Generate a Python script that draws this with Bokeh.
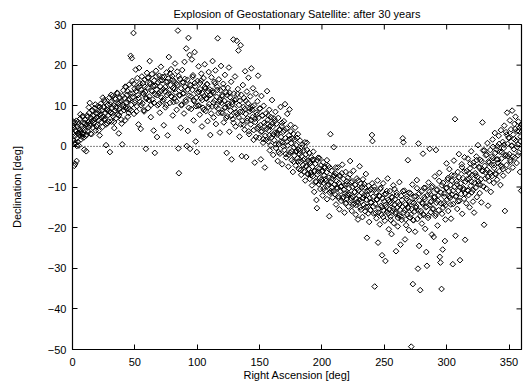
import numpy as np
from bokeh.plotting import figure
from bokeh.models import Range1d, FixedTicker, Span
from bokeh.embed import file_html
from bokeh.resources import INLINE

TITLE = "Explosion of Geostationary Satellite: after 30 years"
X_LABEL = "Right Ascension [deg]"
Y_LABEL = "Declination [deg]"
x_ticks = [0, 50, 100, 150, 200, 250, 300, 350]
y_ticks = [-50, -40, -30, -20, -10, 0, 10, 20, 30]

# (right ascension, declination) pairs, per 30-degree segment
seg_000 = [(0.3,5.2),(0.6,3.1),(0.9,1.4),(1.2,4.6),(1.4,-4.8),(1.7,2.5),(2.0,5.9),(2.2,-4.3),(2.5,0.8),(2.8,3.7),(3.1,6.3),(3.3,-3.6),(3.6,2.0),(3.9,4.9),(4.2,1.1),(4.5,3.3),(4.8,5.5),(5.1,0.2),(5.4,2.8),(5.8,4.1),(6.1,6.8),(6.4,3.5),(6.8,1.7),(7.2,5.0),(7.5,2.4),(7.9,7.3),(8.3,4.4),(8.6,3.0),(9.0,5.8),(9.4,-0.8),(9.8,4.0),(10.2,6.5),(10.6,2.6),(11.0,-1.2),(11.3,5.3),(11.7,7.6),(12.1,3.8),(12.5,6.0),(12.9,4.7),(13.3,8.2),(13.8,10.7),(14.2,5.6),(14.6,3.1),(15.0,7.0),(15.5,6.2),(15.9,8.8),(16.3,4.6),(16.8,7.5),(17.2,5.9),(17.7,9.4),(18.1,6.7),(18.6,3.9),(19.0,8.1),(19.5,7.1),(20.0,5.3),(20.4,9.9),(20.9,6.4),(21.3,8.6),(21.8,2.7),(22.2,7.8),(22.7,10.5),(23.1,6.0),(23.6,8.9),(24.1,4.8),(24.5,7.3),(25.0,9.6),(25.5,11.4),(25.9,6.8),(26.4,8.2),(26.9,0.3),(27.3,9.1),(27.8,5.7),(28.2,10.2),(28.7,7.7),(29.2,8.7),(29.6,12.0),(30.0,-1.4)]
seg_030 = [(30.4,8.3),(30.8,10.9),(31.3,6.1),(31.7,9.5),(32.2,12.4),(32.6,7.4),(33.1,10.1),(33.5,4.5),(34.0,8.8),(34.4,11.6),(34.9,6.9),(35.3,9.8),(35.8,13.2),(36.2,7.9),(36.7,10.6),(37.1,3.2),(37.6,9.2),(38.0,12.0),(38.5,8.4),(38.9,11.1),(39.4,5.6),(39.9,0.5),(40.3,10.3),(40.8,13.8),(41.2,8.9),(41.7,11.9),(42.1,6.4),(42.6,9.7),(43.0,14.6),(43.5,10.8),(43.9,12.7),(44.4,7.3),(44.8,11.4),(45.3,15.2),(45.7,9.1),(46.2,13.0),(46.6,22.3),(47.1,10.2),(47.5,21.7),(48.0,16.1),(48.4,12.1),(48.9,27.9),(49.3,8.0),(49.8,14.2),(50.2,11.3),(50.7,18.9),(51.1,13.6),(51.6,9.9),(52.0,16.8),(52.5,12.6),(52.9,5.4),(53.4,19.3),(53.8,14.8),(54.3,11.0),(54.7,4.3),(55.2,13.9),(55.6,17.2),(56.1,10.6),(56.5,15.6),(57.0,12.9),(57.4,8.6),(57.9,16.4),(58.3,13.4),(58.8,-0.6),(59.2,11.7),(59.7,18.1)]
seg_060 = [(60.1,14.5),(60.6,9.4),(61.0,16.9),(61.5,12.3),(61.9,21.0),(62.4,15.3),(62.8,7.2),(63.3,13.7),(63.7,17.8),(64.2,11.5),(64.6,14.9),(65.1,3.9),(65.5,16.2),(66.0,-1.6),(66.4,12.8),(66.9,18.6),(67.3,14.0),(67.8,2.3),(68.2,10.1),(68.7,15.8),(69.1,13.1),(69.6,17.4),(70.0,8.3),(70.5,14.7),(70.9,19.6),(71.4,12.0),(71.8,16.3),(72.3,11.2),(72.7,14.1),(73.2,5.2),(73.6,17.1),(74.1,13.5),(74.5,9.6),(75.0,15.9),(75.4,18.2),(75.9,12.6),(76.3,2.7),(76.8,16.7),(77.2,22.0),(77.7,13.8),(78.1,10.7),(78.6,15.1),(79.0,19.0),(79.5,12.2),(79.9,17.3),(80.4,7.6),(80.8,14.4),(81.3,16.0),(81.7,11.8),(82.2,20.4),(82.6,13.3),(83.1,15.5),(83.5,9.0),(84.0,18.4),(84.5,28.5),(84.9,-0.5),(85.3,-6.6),(85.8,12.7),(86.2,16.6),(86.7,4.6),(87.1,14.3),(87.6,10.3),(88.0,18.8),(88.5,13.0),(88.9,15.7),(89.4,8.1),(89.8,20.8)]
seg_090 = [(90.3,14.6),(90.7,11.4),(91.2,24.1),(91.6,0.1),(92.1,16.4),(92.5,3.8),(93.0,26.7),(93.4,12.5),(93.9,22.5),(94.3,-0.6),(94.8,15.0),(95.2,9.2),(95.7,21.4),(96.1,13.9),(96.6,17.5),(97.0,6.4),(97.5,11.1),(97.9,23.2),(98.4,14.8),(98.8,1.2),(99.3,12.0),(99.7,-1.4),(100.2,16.1),(100.6,10.0),(101.1,19.7),(101.5,13.4),(102.0,7.8),(102.4,15.6),(102.9,11.9),(103.3,17.9),(103.8,4.9),(104.2,13.1),(104.7,9.5),(105.1,16.8),(105.6,12.4),(106.0,20.2),(106.5,14.2),(106.9,8.7),(107.4,11.7),(107.8,15.3),(108.3,6.2),(108.7,13.6),(109.2,18.3),(109.6,10.4),(110.1,14.0),(110.5,2.8),(111.0,12.8),(111.4,17.0),(111.9,9.8),(112.3,21.0),(112.8,13.2),(113.2,7.1),(113.7,15.9),(114.1,11.3),(114.6,18.7),(115.0,5.5),(115.5,12.2),(115.9,14.7),(116.4,26.6),(116.8,9.3),(117.3,16.5),(117.7,11.0),(118.2,3.4),(118.6,13.8),(119.1,19.8),(119.5,10.7)]
seg_120 = [(120.0,12.6),(120.4,8.2),(120.9,15.4),(121.3,5.9),(121.8,11.2),(122.2,17.6),(122.7,9.6),(123.1,13.3),(123.6,-1.6),(124.0,7.4),(124.5,14.4),(124.9,10.5),(125.4,19.4),(125.8,3.6),(126.3,12.1),(126.7,8.8),(127.2,15.9),(127.6,-3.2),(128.1,10.9),(128.5,6.7),(129.0,26.3),(129.4,13.0),(129.9,9.3),(130.3,17.2),(130.8,4.9),(131.2,11.6),(131.7,26.0),(132.1,7.9),(132.6,14.1),(133.0,23.6),(133.5,10.2),(133.9,2.4),(134.4,8.5),(134.8,24.9),(135.3,12.7),(135.7,-2.4),(136.2,6.3),(136.6,15.1),(137.1,9.7),(137.5,11.9),(138.0,4.1),(138.4,18.5),(138.9,8.0),(139.3,-2.6),(139.8,13.5),(140.2,6.9),(140.7,10.6),(141.1,16.9),(141.6,3.0),(142.0,8.6),(142.5,12.3),(142.9,5.4),(143.4,19.2),(143.8,9.0),(144.3,7.2),(144.7,14.3),(145.2,1.6),(145.6,10.1),(146.1,-4.0),(146.5,6.0),(147.0,13.0),(147.4,8.3),(147.9,4.4),(148.3,11.1),(148.8,17.4),(149.2,7.0),(149.7,2.1)]
seg_150 = [(150.1,9.3),(150.6,5.2),(151.0,-3.2),(151.5,12.4),(151.9,3.7),(152.4,7.6),(152.8,0.9),(153.3,10.0),(153.7,5.8),(154.2,-5.2),(154.6,2.6),(155.1,8.1),(155.5,4.3),(156.0,13.6),(156.4,6.5),(156.9,1.2),(157.3,3.9),(157.8,9.0),(158.2,-1.0),(158.7,5.1),(159.1,7.2),(159.6,2.2),(160.0,11.4),(160.5,4.8),(160.9,-2.1),(161.4,6.9),(161.8,1.5),(162.3,3.4),(162.7,8.5),(163.2,-0.4),(163.6,5.6),(164.1,2.9),(164.5,-3.6),(165.0,7.0),(165.4,0.6),(165.9,4.0),(166.3,-1.8),(166.8,9.7),(167.2,2.3),(167.7,5.0),(168.1,-4.4),(168.6,1.0),(169.0,3.6),(169.5,6.2),(169.9,-0.9),(170.4,10.4),(170.8,2.0),(171.3,-2.7),(171.7,4.4),(172.2,8.0),(172.6,0.2),(173.1,-5.0),(173.5,2.7),(174.0,9.1),(174.4,-1.5),(174.9,5.3),(175.3,0.8),(175.8,-3.4),(176.2,1.9),(176.7,-6.3),(177.1,3.1),(177.6,-0.3),(178.0,-2.3),(178.5,4.6),(178.9,-4.7),(179.4,0.3),(179.8,-1.2)]
seg_180 = [(180.3,-2.9),(180.7,3.0),(181.2,-0.8),(181.6,-5.6),(182.1,-1.9),(182.5,1.4),(183.0,-3.8),(183.4,-7.0),(183.9,-2.4),(184.3,0.4),(184.8,-4.6),(185.2,-1.0),(185.7,-6.2),(186.1,-3.1),(186.6,-8.4),(187.0,-2.0),(187.5,-4.9),(187.9,0.9),(188.4,-6.8),(188.8,-3.5),(189.3,-5.5),(189.7,-1.6),(190.2,-8.0),(190.6,-4.1),(191.1,-6.5),(191.5,-2.7),(192.0,-9.6),(192.4,-5.0),(192.9,-7.3),(193.3,-3.3),(193.8,-11.2),(194.2,-6.0),(194.7,-4.3),(195.1,-8.6),(195.6,-13.2),(196.0,-15.2),(196.5,-6.9),(196.9,-2.8),(197.4,-9.3),(197.8,-5.4),(198.3,-7.8),(198.7,-10.5),(199.2,-4.7),(199.6,-8.2),(200.1,-6.2),(200.5,-12.1),(201.0,-3.9),(201.4,-9.0),(201.9,-7.1),(202.3,-5.3),(202.8,-10.9),(203.2,-8.5),(203.7,-6.4),(204.1,-13.0),(204.6,-9.7),(205.0,-4.8),(205.5,-7.7),(205.9,-17.2),(206.4,-11.4),(206.8,3.0),(207.3,-8.8),(207.7,-6.0),(208.2,-10.1),(208.6,-12.6),(209.1,-7.3),(209.5,-0.2),(210.0,-9.4)]
seg_210 = [(210.4,-11.8),(210.9,-6.7),(211.3,-14.3),(211.8,-8.6),(212.2,-10.4),(212.7,-5.2),(213.1,-12.3),(213.6,-9.0),(214.0,-15.5),(214.5,-7.4),(214.9,-11.0),(215.4,-13.4),(215.8,-9.8),(216.3,-4.5),(216.7,-12.8),(217.2,-8.0),(217.6,-10.7),(218.1,-16.3),(218.5,-11.6),(219.0,-6.3),(219.4,-13.9),(219.9,-9.3),(220.3,-12.0),(220.8,-7.7),(221.2,-14.8),(221.7,-10.3),(222.1,-11.9),(222.6,-3.6),(223.0,-13.2),(223.5,-8.9),(223.9,-15.9),(224.4,-10.0),(224.8,-12.5),(225.3,-6.0),(225.7,-14.1),(226.2,-11.3),(226.6,-9.5),(227.1,-16.8),(227.5,-12.9),(228.0,-7.9),(228.4,-13.7),(228.9,-18.0),(229.3,-10.8),(229.8,-12.2),(230.2,-4.9),(230.7,-15.0),(231.1,-9.2),(231.6,-13.6),(232.0,-11.5),(232.5,-17.4),(232.9,-8.1),(233.4,-14.4),(233.8,-12.0),(234.3,-10.1),(234.7,-16.0),(235.2,-6.8),(235.6,-13.1),(236.1,-22.5),(236.5,-11.0),(237.0,-14.9),(237.4,-9.7),(237.9,-18.6),(238.3,-12.7),(238.8,-15.7),(239.2,-10.6),(239.7,-13.8),(240.1,2.8)]
seg_240 = [(240.5,1.3),(241.0,-12.4),(241.4,-16.5),(241.9,-9.9),(242.3,-34.5),(242.8,-14.2),(243.2,-11.3),(243.7,-17.7),(244.1,-13.0),(244.6,-8.4),(245.0,-23.7),(245.5,-15.3),(245.9,-12.1),(246.4,-19.2),(246.8,-10.5),(247.3,-14.6),(247.7,-16.8),(248.2,-26.8),(248.6,-12.8),(249.1,-9.1),(249.5,-15.8),(250.0,-13.5),(250.4,-18.3),(250.9,-28.2),(251.3,-11.7),(251.8,-14.9),(252.2,-16.1),(252.7,-7.9),(253.1,-13.2),(253.6,-20.4),(254.0,-15.5),(254.5,-11.0),(254.9,-17.3),(255.4,-14.0),(255.8,-21.6),(256.3,-12.6),(256.7,-15.9),(257.2,-9.6),(257.6,-18.9),(258.1,-14.4),(258.5,-13.0),(259.0,-16.6),(259.4,-25.8),(259.9,-11.4),(260.3,-15.1),(260.8,-19.7),(261.2,-13.7),(261.7,-17.0),(262.1,-8.8),(262.6,-15.6),(263.0,-24.2),(263.5,-12.2),(263.9,-18.1),(264.4,-14.8),(264.8,2.0),(265.3,1.0),(265.7,-16.3),(266.2,-10.9),(266.6,-22.9),(267.1,-14.3),(267.5,-19.4),(268.0,-12.9),(268.4,-16.7),(268.9,-3.4),(269.3,-15.2),(269.8,-20.6)]
seg_270 = [(270.2,-13.6),(270.7,-17.5),(271.1,-11.6),(271.6,-49.3),(272.0,-15.4),(272.5,-9.4),(272.9,-33.9),(273.4,-18.2),(273.8,-13.9),(274.3,-16.0),(274.7,-21.0),(275.2,-12.3),(275.6,-14.7),(276.1,-8.3),(276.5,-17.9),(277.0,-30.1),(277.4,0.7),(277.9,-24.5),(278.3,-13.3),(278.8,-35.4),(279.2,-15.9),(279.7,-11.1),(280.1,-19.0),(280.6,-14.1),(281.0,-1.8),(281.5,-16.9),(281.9,-10.2),(282.4,-13.0),(282.8,-20.3),(283.3,-15.0),(283.7,-26.0),(284.2,-29.4),(284.6,-12.0),(285.1,-17.6),(285.5,-8.9),(286.0,-14.5),(286.4,-0.6),(286.9,-11.8),(287.3,-16.2),(287.8,-13.5),(288.2,-21.7),(288.7,-9.8),(289.1,-15.3),(289.6,-22.3),(290.0,-12.6),(290.5,-7.4),(290.9,-17.1),(291.4,-0.9),(291.8,-13.9),(292.3,-10.6),(292.7,-19.5),(293.2,-12.1),(293.6,-15.7),(294.1,-6.5),(294.5,-27.2),(295.0,-28.6),(295.4,-11.4),(295.9,-35.1),(296.3,-16.6),(296.8,-25.4),(297.2,-9.0),(297.7,-14.0),(298.1,-12.4),(298.6,-23.3),(299.0,-18.0),(299.5,-10.3),(299.9,-4.2)]
seg_300 = [(300.4,-13.1),(300.8,-8.2),(301.3,-15.9),(301.7,-11.0),(302.2,-5.6),(302.6,-12.7),(303.1,-9.5),(303.5,-17.8),(304.0,-7.1),(304.4,-11.9),(304.9,-29.0),(305.3,-14.2),(305.8,-3.5),(306.2,-10.0),(306.7,6.7),(307.1,-22.0),(307.6,-12.2),(308.0,-8.6),(308.5,-15.4),(308.9,-6.3),(309.4,-10.9),(309.8,-1.9),(310.3,-13.4),(310.7,-28.0),(311.2,-9.1),(311.6,-11.7),(312.1,-4.4),(312.5,-16.6),(313.0,-7.8),(313.4,-10.3),(313.9,-12.9),(314.3,-2.7),(314.8,-23.0),(315.2,-8.7),(315.7,-14.0),(316.1,-6.1),(316.6,-10.8),(317.0,-3.0),(317.5,-12.0),(317.9,-8.0),(318.4,-15.0),(318.8,-5.4),(319.3,-9.7),(319.7,-1.2),(320.2,-11.3),(320.6,-7.0),(321.1,-13.6),(321.5,-4.0),(322.0,-16.3),(322.4,-8.9),(322.9,-6.6),(323.3,-10.2),(323.8,-2.5),(324.2,-12.5),(324.7,-7.5),(325.1,0.3),(325.6,-9.3),(326.0,-5.0),(326.5,-11.5),(326.9,-3.3),(327.4,-8.1),(327.8,-13.8),(328.3,-6.0),(328.7,5.9),(329.2,-1.0),(329.6,-9.9),(330.0,-19.3)]
seg_330 = [(330.5,-4.8),(330.9,-7.9),(331.4,-2.2),(331.8,-10.4),(332.3,-5.8),(332.7,0.8),(333.2,-14.6),(333.6,-3.7),(334.1,-8.5),(334.5,-6.4),(335.0,-0.9),(335.4,-11.2),(335.9,-4.5),(336.3,-7.3),(336.8,1.7),(337.2,-2.9),(337.7,-9.0),(338.1,-5.3),(338.6,3.3),(339.0,-1.6),(339.5,-6.9),(339.9,-3.2),(340.4,-8.2),(340.8,0.0),(341.3,-4.1),(341.7,2.6),(342.2,-6.1),(342.6,-1.3),(343.1,-9.5),(343.5,4.0),(344.0,-3.0),(344.4,-5.0),(344.9,1.1),(345.3,-7.2),(345.8,-0.4),(346.2,5.1),(346.7,-15.9),(347.1,-2.4),(347.6,3.5),(348.0,-4.6),(348.5,8.3),(348.9,0.6),(349.4,-6.0),(349.8,2.2),(350.3,-1.9),(350.7,6.4),(351.2,-3.8),(351.6,4.2),(352.1,0.1),(352.5,8.8),(353.0,-5.2),(353.4,2.9),(353.9,-0.7),(354.3,5.5),(354.8,-2.8),(355.2,7.3),(355.7,1.4),(356.1,-4.1),(356.6,3.8),(357.0,0.5),(357.5,6.1),(357.9,-1.5),(358.4,4.6),(358.8,-6.3),(359.3,2.4),(359.7,-10.9),(359.9,5.4)]

# extra points filling the dense core of the band
core_a = [(0.5,6.1),(1.5,0.8),(2.4,4.0),(3.5,0.1),(4.4,6.0),(5.3,3.4),(6.3,7.9),(7.4,3.1),(8.2,7.5),(9.1,2.2),(10.1,5.7),(11.2,2.9),(12.3,7.3),(13.1,9.6),(14.0,5.1),(15.2,3.0),(16.1,8.9),(17.0,6.5),(18.3,10.3),(19.2,4.9),(20.2,8.1),(21.1,3.9),(22.0,9.7),(23.3,7.1),(24.3,12.0),(25.2,6.6),(26.1,10.9),(27.0,5.4),(28.0,8.9),(29.0,6.1),(30.2,10.3),(31.0,12.7),(32.0,8.1),(33.3,6.0),(34.2,11.8),(35.1,9.4),(36.0,13.0),(37.3,7.7),(38.2,10.8),(39.1,6.6),(40.1,12.4),(41.0,9.8),(42.3,14.7),(43.2,9.3),(44.1,13.6),(45.0,8.2),(46.0,11.6),(47.3,8.8),(48.2,13.0),(49.1,15.4),(50.0,10.8),(51.3,8.6),(52.2,14.4),(53.1,11.9),(54.0,15.5),(55.0,10.1),(56.3,13.2),(57.2,8.9),(58.0,14.7),(59.0,12.0),(60.3,16.9),(61.2,11.4),(62.1,15.7),(63.0,10.2),(64.0,13.6),(65.3,10.7),(66.2,14.9),(67.1,17.2),(68.0,12.6),(69.3,10.4),(70.2,16.2),(71.1,13.6),(72.0,17.1),(73.0,11.6),(74.3,14.6),(75.2,10.2),(76.1,15.9),(77.0,13.1),(78.3,17.9),(79.2,12.3),(80.1,16.5),(81.0,10.9),(82.0,14.1),(83.3,11.1),(84.2,15.1),(85.1,17.3),(86.0,12.5),(87.3,10.1),(88.2,15.8),(89.1,13.1),(90.0,16.6),(91.0,11.0),(92.3,14.0),(93.2,9.5),(94.1,15.2),(95.0,12.3),(96.3,17.1),(97.2,11.4),(98.1,15.6),(99.0,9.9),(100.0,13.2),(101.3,10.1),(102.2,14.1),(103.1,16.2),(104.0,11.4),(105.3,9.0),(106.2,14.6),(107.1,11.9),(108.0,15.3),(109.0,9.7),(110.3,12.6),(111.2,8.1),(112.1,13.7),(113.0,10.8),(114.3,15.5),(115.2,9.8),(116.1,13.9),(117.0,8.2),(118.3,11.4),(119.2,8.3)]
core_b = [(120.1,12.3),(121.0,14.4),(122.0,9.5),(123.3,7.0),(124.2,12.6),(125.1,9.9),(126.0,13.2),(127.3,7.5),(128.2,10.4),(129.1,5.8),(130.0,11.4),(131.0,8.4),(132.3,12.9),(133.2,7.2),(134.1,11.2),(135.0,5.4),(136.3,8.5),(137.2,5.3),(138.1,9.2),(139.0,11.2),(140.0,6.3),(141.3,3.7),(142.2,9.3),(143.1,6.5),(144.0,9.8),(145.3,4.0),(146.2,6.8),(147.1,2.3),(148.0,7.8),(149.0,4.8),(150.3,9.3),(151.2,3.6),(152.1,7.6),(153.0,1.8),(154.0,4.9),(155.3,1.6),(156.2,5.6),(157.1,7.6),(158.0,2.7),(159.0,0.2),(160.3,5.6),(161.2,2.9),(162.1,6.2),(163.0,0.5),(164.0,3.3),(165.3,-1.4),(166.2,4.2),(167.1,1.2),(168.0,5.8),(169.0,0.0),(170.1,4.0),(171.0,-1.9),(172.0,1.2),(173.3,-2.1),(174.2,1.8),(175.1,3.7),(176.0,-1.2),(177.3,-3.8),(178.2,1.7),(179.1,-1.2),(180.0,2.1),(181.0,-3.7),(182.3,-1.1),(183.2,-5.8),(184.1,-0.3),(185.0,-3.4),(186.3,1.0),(187.2,-4.9),(188.1,-0.9),(189.0,-6.8),(190.0,-3.8),(191.3,-7.1),(192.2,-3.3),(193.1,-1.3),(194.0,-6.2),(195.3,-8.8),(196.2,-3.4),(197.1,-6.2),(198.0,-2.9),(199.0,-8.7),(200.3,-6.0),(201.2,-10.5),(202.1,-5.0),(203.0,-8.0),(204.0,-3.4),(205.3,-9.3),(206.2,-5.2),(207.1,-11.0),(208.0,-7.9),(209.0,-11.1),(210.1,-7.2),(211.0,-5.2),(212.0,-10.1),(213.3,-12.7),(214.2,-7.1),(215.1,-9.9),(216.0,-6.6),(217.3,-12.4),(218.2,-9.5),(219.1,-14.1),(220.0,-8.6),(221.0,-11.6),(222.3,-6.9),(223.2,-12.7),(224.1,-8.6),(225.0,-14.4),(226.3,-11.2),(227.2,-14.4),(228.1,-10.4),(229.0,-8.4),(230.0,-13.2),(231.3,-15.6),(232.2,-10.0),(233.1,-12.7),(234.0,-9.3),(235.3,-14.9),(236.2,-12.0),(237.1,-16.5),(238.0,-10.9),(239.0,-13.8)]
core_c = [(240.3,-9.1),(241.2,-14.8),(242.1,-10.7),(243.0,-16.4),(244.0,-13.2),(245.3,-16.3),(246.2,-12.3),(247.1,-10.2),(248.0,-15.0),(249.0,-17.4),(250.1,-11.8),(251.0,-14.4),(252.0,-11.0),(253.3,-16.6),(254.2,-13.6),(255.1,-18.1),(256.0,-12.4),(257.3,-15.3),(258.2,-10.5),(259.1,-16.2),(260.0,-12.0),(261.0,-17.6),(262.3,-14.3),(263.2,-17.3),(264.1,-13.2),(265.0,-11.0),(266.3,-15.7),(267.2,-18.0),(268.1,-12.3),(269.0,-14.9),(270.0,-11.4),(271.3,-16.8),(272.2,-13.8),(273.1,-18.1),(274.0,-12.4),(275.3,-15.1),(276.2,-10.3),(277.1,-15.8),(278.0,-11.6),(279.0,-17.1),(280.3,-13.8),(281.2,-16.7),(282.1,-12.5),(283.0,-10.2),(284.0,-14.8),(285.3,-17.0),(286.2,-11.2),(287.1,-13.7),(288.0,-10.1),(289.0,-15.5),(290.3,-12.4),(291.2,-16.6),(292.1,-10.8),(293.0,-13.4),(294.0,-8.5),(295.3,-14.0),(296.2,-9.6),(297.1,-15.1),(298.0,-11.6),(299.0,-14.5),(300.1,-10.2),(301.0,-7.8),(302.0,-12.3),(303.3,-14.3),(304.2,-8.5),(305.1,-10.9),(306.0,-7.2),(307.3,-12.4),(308.2,-9.3),(309.1,-13.5),(310.0,-7.6),(311.0,-10.2),(312.3,-5.1),(313.2,-10.6),(314.1,-6.2),(315.0,-11.6),(316.3,-8.1),(317.2,-10.9),(318.1,-6.6),(319.0,-4.2),(320.0,-8.7),(321.3,-10.7),(322.2,-4.8),(323.1,-7.2),(324.0,-3.4),(325.3,-8.6),(326.2,-5.3),(327.1,-9.5),(328.0,-3.6),(329.0,-6.1),(330.3,-1.0),(331.2,-6.4),(332.1,-2.0),(333.0,-7.5),(334.0,-4.0),(335.3,-6.7),(336.2,-2.5),(337.1,-0.1),(338.0,-4.6),(339.0,-6.7),(340.1,-0.8),(341.0,-3.2),(342.0,0.6),(343.3,-4.6),(344.2,-1.4),(345.1,-5.6),(346.0,0.4),(347.3,-2.1),(348.2,2.9),(349.1,-2.4),(350.0,2.0),(351.0,-3.4),(352.3,0.2),(353.2,-2.5),(354.1,1.8),(355.0,4.3),(356.3,-0.2),(357.2,-2.2),(358.1,3.7),(359.0,1.3),(359.6,5.0)]

segments = [seg_000, seg_030, seg_060, seg_090, seg_120, seg_150,
            seg_180, seg_210, seg_240, seg_270, seg_300, seg_330,
            core_a, core_b, core_c]
ra = [pt[0] for seg in segments for pt in seg]
dec = [pt[1] for seg in segments for pt in seg]

FONT = "Liberation Sans"

p = figure(width=524, height=383, output_backend="svg", toolbar_location=None,
           x_range=Range1d(0, 360), y_range=Range1d(-50, 30),
           min_border_left=72, min_border_right=3, min_border_top=23, min_border_bottom=32)
p.title.text = TITLE
p.title.align = "center"
p.title.text_font = FONT
p.title.text_font_size = "11px"
p.title.text_font_style = "normal"
p.title.text_color = "black"
p.title.offset = 0

p.grid.visible = False
p.outline_line_color = "black"
p.outline_line_width = 1.2

for ax in (p.xaxis[0], p.yaxis[0]):
    ax.major_tick_in = 5
    ax.major_tick_out = 0
    ax.minor_tick_line_color = None
    ax.axis_line_color = "black"
    ax.major_tick_line_color = "black"
    ax.major_label_text_font = FONT
    ax.major_label_text_font_size = "11px"
    ax.major_label_text_color = "black"
    ax.axis_label_text_font = FONT
    ax.axis_label_text_font_size = "11px"
    ax.axis_label_text_font_style = "normal"
    ax.axis_label_text_color = "black"

p.xaxis.ticker = FixedTicker(ticks=x_ticks)
p.yaxis.ticker = FixedTicker(ticks=y_ticks)
p.xaxis.axis_label = X_LABEL
p.yaxis.axis_label = Y_LABEL
p.xaxis.major_label_standoff = 8
p.xaxis.axis_label_standoff = 0
p.yaxis.major_label_standoff = 6
p.yaxis.axis_label_standoff = 22

# mirrored inward ticks on top and right borders
p.ray(x=x_ticks, y=[30] * len(x_ticks), length=5, length_units="screen",
      angle=-np.pi / 2, line_color="black", line_width=1)
p.ray(x=[360] * len(y_ticks), y=y_ticks, length=5, length_units="screen",
      angle=np.pi, line_color="black", line_width=1)

p.add_layout(Span(location=0, dimension="width", line_color="black",
                  line_dash="1 2", line_width=1))

p.scatter(ra, dec, marker="square", angle=np.pi / 4, size=4,
          fill_color=None, line_color="black", line_width=1)

open("out.html", "w").write(file_html(p, INLINE))
